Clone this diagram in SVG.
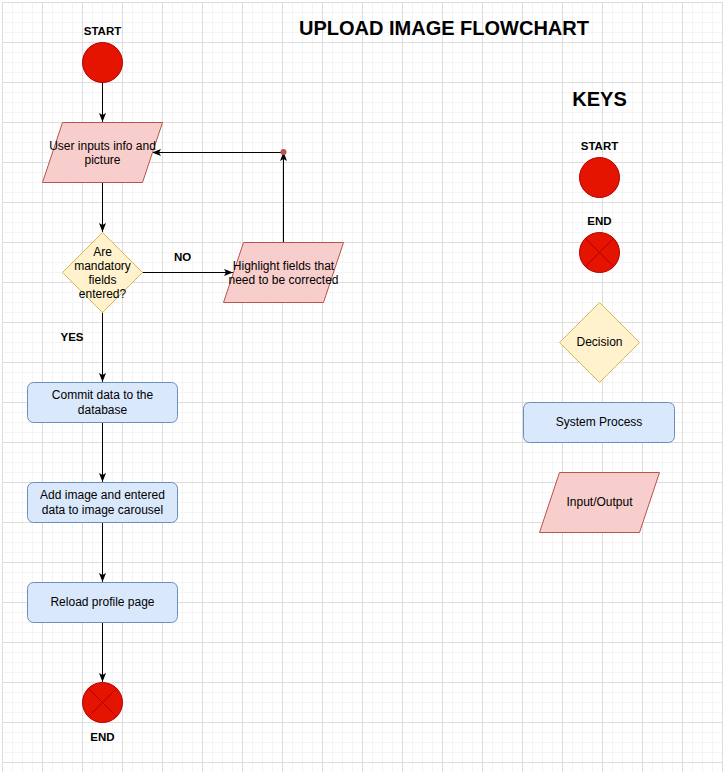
<svg xmlns="http://www.w3.org/2000/svg" width="723" height="772" viewBox="0 0 723 772">
  <defs>
    <pattern id="grid" patternUnits="userSpaceOnUse" x="2" y="2" width="40" height="40">
      <rect x="0" y="10" width="40" height="1" fill="#f4f4f4"/>
      <rect x="0" y="20" width="40" height="1" fill="#f4f4f4"/>
      <rect x="0" y="30" width="40" height="1" fill="#f4f4f4"/>
      <rect x="10" y="0" width="1" height="40" fill="#f4f4f4"/>
      <rect x="20" y="0" width="1" height="40" fill="#f4f4f4"/>
      <rect x="30" y="0" width="1" height="40" fill="#f4f4f4"/>
      <rect x="0" y="0" width="40" height="1" fill="#dddddd"/>
      <rect x="0" y="0" width="1" height="40" fill="#dddddd"/>
    </pattern>
    <marker id="arrow" markerUnits="userSpaceOnUse" markerWidth="9" markerHeight="8" viewBox="0 0 9 8" refX="9" refY="4" orient="auto">
      <path d="M0,0.5 L9,4 L0,7.5 L2,4 z" fill="#000"/>
    </marker>
  </defs>
  <style>
    .t { font-family: "Liberation Sans", Arial, sans-serif; font-size: 12px; fill: #000; text-anchor: middle; }
    .b { font-family: "Liberation Sans", Arial, sans-serif; font-size: 11.5px; font-weight: bold; fill: #000; text-anchor: middle; }
    .h { font-family: "Liberation Sans", Arial, sans-serif; font-size: 20px; font-weight: bold; fill: #000; text-anchor: middle; }
    .term { fill: #e51400; stroke: #b20000; stroke-width: 1; }
    .xline { stroke: #b20000; stroke-width: 1; fill: none; }
    .io { fill: #f8cecc; stroke: #b85450; stroke-width: 1; }
    .dec { fill: #fff2cc; stroke: #d6b656; stroke-width: 1; }
    .proc { fill: #dae8fc; stroke: #6c8ebf; stroke-width: 1; }
    .edge { stroke: #000; stroke-width: 1; fill: none; marker-end: url(#arrow); }
  </style>

  <rect x="0" y="0" width="723" height="772" fill="#ffffff"/>
  <rect x="2" y="2" width="721" height="770" fill="url(#grid)"/>

  <text class="h" x="444" y="35">UPLOAD IMAGE FLOWCHART</text>

  <g id="connectors">
    <path class="edge" d="M102.5,82 L102.5,122"/>
    <path class="edge" d="M102.5,182 L102.5,232"/>
    <path class="edge" d="M142,272.5 L233,272.5"/>
    <path class="edge" d="M283.5,242 L283.5,152"/>
    <path class="edge" d="M283.5,152.5 L152,152.5"/>
    <path class="edge" d="M102.5,312 L102.5,382"/>
    <path class="edge" d="M102.5,422 L102.5,482"/>
    <path class="edge" d="M102.5,522 L102.5,582"/>
    <path class="edge" d="M102.5,622 L102.5,682"/>
    <circle cx="283.5" cy="152" r="3" fill="#b85450" stroke="none"/>
    <text class="b" x="182.5" y="261">NO</text>
    <text class="b" x="72" y="341">YES</text>
  </g>

  <g id="start">
    <text class="b" x="102.5" y="35">START</text>
    <circle class="term" cx="102.5" cy="62.5" r="20"/>
  </g>

  <g id="user-inputs">
    <polygon class="io" points="62.5,122.5 162.5,122.5 142.5,182.5 42.5,182.5"/>
    <text class="t" x="102.5" y="149.5">User inputs info and</text>
    <text class="t" x="102.5" y="164">picture</text>
  </g>

  <g id="decision">
    <polygon class="dec" points="102.5,232.5 142.5,272.5 102.5,312.5 62.5,272.5"/>
    <text class="t" x="102.5" y="255.5">Are</text>
    <text class="t" x="102.5" y="270">mandatory</text>
    <text class="t" x="102.5" y="284.3">fields</text>
    <text class="t" x="102.5" y="298.3">entered?</text>
  </g>

  <g id="highlight">
    <polygon class="io" points="243.5,242.5 343.5,242.5 323.5,302.5 223.5,302.5"/>
    <text class="t" x="283.5" y="269.5">Highlight fields that</text>
    <text class="t" x="283.5" y="284">need to be corrected</text>
  </g>

  <g id="commit">
    <rect class="proc" x="27.5" y="382.5" width="150" height="40" rx="6" ry="6"/>
    <text class="t" x="102.5" y="399">Commit data to the</text>
    <text class="t" x="102.5" y="413.5">database</text>
  </g>

  <g id="add-image">
    <rect class="proc" x="27.5" y="482.5" width="150" height="40" rx="6" ry="6"/>
    <text class="t" x="102.5" y="499">Add image and entered</text>
    <text class="t" x="102.5" y="514">data to image carousel</text>
  </g>

  <g id="reload">
    <rect class="proc" x="27.5" y="582.5" width="150" height="40" rx="6" ry="6"/>
    <text class="t" x="102.5" y="606.3">Reload profile page</text>
  </g>

  <g id="end">
    <circle class="term" cx="102.5" cy="702.5" r="20"/>
    <path class="xline" d="M88.4,688.4 L116.6,716.6 M116.6,688.4 L88.4,716.6"/>
    <text class="b" x="102.5" y="741">END</text>
  </g>

  <g id="keys">
    <text class="h" x="599.5" y="105.5">KEYS</text>
  </g>

  <g id="key-start">
    <text class="b" x="599.5" y="150">START</text>
    <circle class="term" cx="599.5" cy="177.5" r="20"/>
  </g>

  <g id="key-end">
    <text class="b" x="599.5" y="225.3">END</text>
    <circle class="term" cx="599.5" cy="252.5" r="20"/>
    <path class="xline" d="M585.4,238.4 L613.6,266.6 M613.6,238.4 L585.4,266.6"/>
  </g>

  <g id="key-decision">
    <polygon class="dec" points="599.5,302.5 639.5,342.5 599.5,382.5 559.5,342.5"/>
    <text class="t" x="599.5" y="346.3">Decision</text>
  </g>

  <g id="key-process">
    <rect class="proc" x="523.5" y="402.5" width="151" height="40" rx="6" ry="6"/>
    <text class="t" x="599" y="426.3">System Process</text>
  </g>

  <g id="key-io">
    <polygon class="io" points="559.5,472.5 659.5,472.5 639.5,532.5 539.5,532.5"/>
    <text class="t" x="599.5" y="506.3">Input/Output</text>
  </g>
</svg>
